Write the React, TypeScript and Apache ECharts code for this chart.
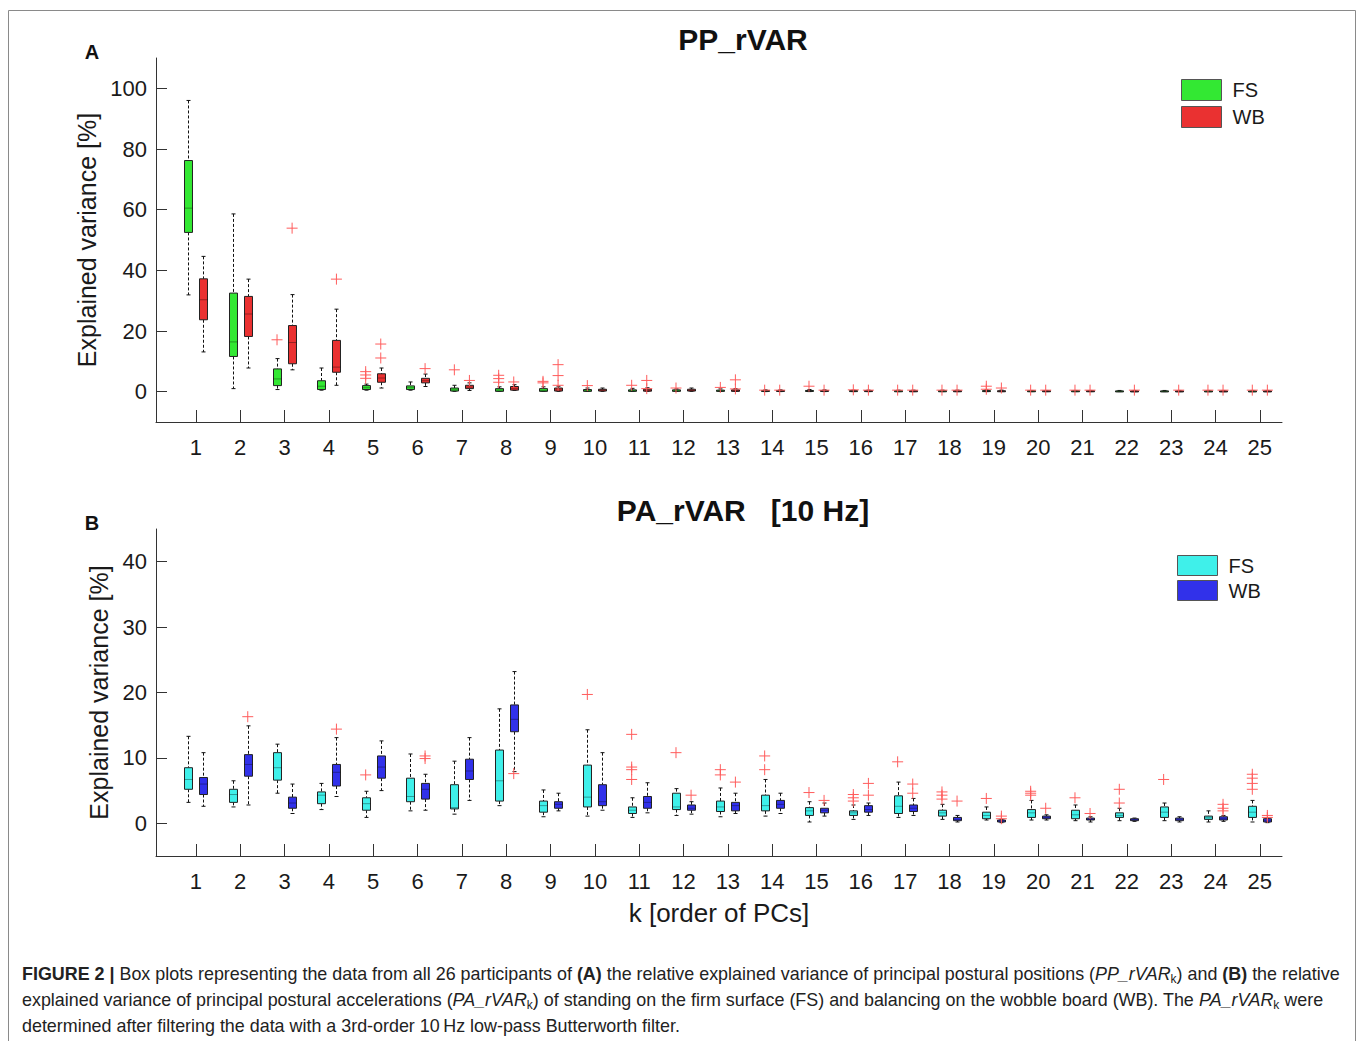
import React, { useEffect, useRef } from 'react';
import * as echarts from 'echarts';

// ---------- DATA ----------
const K = [1, 2, 3, 4, 5, 6, 7, 8, 9, 10, 11, 12, 13, 14, 15, 16, 17, 18, 19, 20, 21, 22, 23, 24, 25];

// [lower whisker, Q1, median, Q3, upper whisker]
const PP_FS = [
  [31.9, 52.5, 60.5, 76.2, 96.0], [1.0, 11.6, 16.4, 32.5, 58.6], [0.7, 2.0, 4.2, 7.5, 10.9],
  [0.5, 0.7, 1.8, 3.6, 7.8], [0.5, 0.7, 1.3, 2.0, 2.5], [0.5, 0.7, 1.3, 1.9, 3.2],
  [0.1, 0.2, 0.6, 1.2, 2.1], [0.1, 0.1, 0.5, 1.0, 1.6], [0.1, 0.1, 0.4, 1.0, 1.6],
  [0.05, 0.1, 0.35, 0.7, 1.2], [0.05, 0.1, 0.3, 0.6, 1.1], [0.05, 0.1, 0.3, 0.6, 0.9],
  [0.05, 0.1, 0.25, 0.5, 0.9], [0.02, 0.08, 0.2, 0.4, 0.6], [0.02, 0.08, 0.2, 0.4, 0.7],
  [0.02, 0.06, 0.15, 0.35, 0.5], [0.02, 0.06, 0.15, 0.3, 0.5], [0.02, 0.05, 0.15, 0.3, 0.5],
  [0.02, 0.05, 0.15, 0.35, 0.6], [0.02, 0.05, 0.12, 0.3, 0.4], [0.02, 0.05, 0.12, 0.3, 0.4],
  [0.02, 0.05, 0.12, 0.25, 0.4], [0.02, 0.05, 0.12, 0.25, 0.4], [0.02, 0.05, 0.1, 0.25, 0.4],
  [0.02, 0.05, 0.1, 0.25, 0.4],
];
const PP_WB = [
  [13.1, 23.7, 30.3, 37.2, 44.6], [7.8, 18.2, 25.6, 31.4, 37.1], [7.2, 9.2, 16.2, 21.8, 32.0],
  [2.1, 6.4, 8.1, 16.9, 27.2], [1.2, 3.1, 4.5, 5.9, 7.8], [1.7, 2.9, 3.6, 4.4, 5.8],
  [0.4, 1.0, 1.5, 2.1, 2.9], [0.4, 0.5, 1.0, 1.7, 2.3], [0.1, 0.2, 0.6, 1.2, 1.8],
  [0.1, 0.2, 0.5, 0.8, 1.2], [0.1, 0.15, 0.4, 0.8, 1.3], [0.1, 0.2, 0.4, 0.8, 1.2],
  [0.05, 0.1, 0.3, 0.6, 1.0], [0.02, 0.08, 0.2, 0.4, 0.6], [0.02, 0.08, 0.2, 0.4, 0.6],
  [0.02, 0.06, 0.15, 0.35, 0.5], [0.02, 0.06, 0.15, 0.3, 0.5], [0.02, 0.05, 0.15, 0.3, 0.5],
  [0.02, 0.05, 0.15, 0.3, 0.5], [0.02, 0.05, 0.12, 0.3, 0.4], [0.02, 0.05, 0.12, 0.3, 0.4],
  [0.02, 0.05, 0.12, 0.25, 0.4], [0.02, 0.05, 0.12, 0.25, 0.4], [0.02, 0.05, 0.1, 0.25, 0.4],
  [0.02, 0.05, 0.1, 0.25, 0.4],
];
// outliers [k, value]
const PP_FS_OUT = [
  [3, 17.1], [5, 6.6], [5, 5.5], [5, 4.4], [7, 7.2], [8, 5.4], [8, 4.3], [8, 3.1], [9, 3.4], [9, 2.9],
  [10, 2.0], [11, 2.1], [12, 1.2], [13, 1.4], [14, 0.5], [15, 1.8], [16, 0.6], [17, 0.5], [18, 0.5],
  [19, 1.8], [19, 0.8], [20, 0.5], [21, 0.5], [24, 0.5], [25, 0.5],
];
const PP_WB_OUT = [
  [3, 53.9], [4, 37.1], [5, 15.7], [5, 11.1], [6, 7.6], [7, 3.7], [8, 3.2], [9, 8.9], [9, 5.3], [9, 2.1],
  [11, 3.7], [11, 1.0], [13, 3.9], [13, 0.9], [14, 0.5], [15, 0.5], [16, 0.5], [17, 0.5], [18, 0.5],
  [19, 1.2], [20, 0.5], [21, 0.5], [22, 0.5], [23, 0.5], [24, 0.5], [25, 0.5],
];

const PA_FS = [
  [3.2, 5.2, 6.7, 8.5, 13.3], [2.5, 3.2, 4.4, 5.2, 6.5], [4.6, 6.6, 8.5, 10.8, 12.1],
  [2.1, 3.0, 4.3, 4.8, 6.1], [0.9, 2.0, 3.0, 3.9, 4.9], [1.9, 3.3, 4.1, 6.9, 10.6],
  [1.4, 2.2, 2.4, 5.9, 9.5], [2.7, 3.4, 6.5, 11.2, 17.5], [1.0, 1.7, 2.7, 3.4, 5.1],
  [1.1, 2.5, 4.0, 8.9, 14.3], [0.9, 1.5, 2.0, 2.5, 3.9], [1.2, 2.1, 2.5, 4.6, 5.3],
  [1.0, 1.8, 2.5, 3.4, 5.4], [1.1, 1.9, 2.7, 4.3, 6.7], [0.2, 1.2, 1.9, 2.4, 3.3],
  [0.6, 1.2, 1.6, 1.9, 2.8], [0.9, 1.5, 2.6, 4.2, 6.3], [0.6, 1.1, 1.6, 2.0, 2.9],
  [0.5, 0.7, 1.2, 1.7, 2.5], [0.5, 0.9, 1.6, 2.1, 3.5], [0.4, 0.7, 1.3, 2.0, 2.8],
  [0.4, 0.9, 1.2, 1.6, 2.3], [0.4, 0.9, 1.7, 2.5, 3.1], [0.2, 0.6, 0.85, 1.1, 1.9],
  [0.2, 0.9, 1.7, 2.6, 3.5],
];
const PA_WB = [
  [2.6, 4.4, 6.0, 7.0, 10.8], [2.8, 7.2, 9.0, 10.5, 14.9], [1.5, 2.3, 3.1, 4.0, 6.0],
  [4.1, 5.7, 7.8, 9.0, 13.1], [5.0, 6.9, 8.6, 10.3, 12.6], [2.0, 3.7, 5.2, 6.1, 7.5],
  [3.5, 6.7, 8.0, 9.8, 13.1], [7.9, 14.0, 15.9, 18.1, 23.2], [1.9, 2.3, 2.9, 3.3, 4.6],
  [2.0, 2.7, 3.3, 5.9, 10.8], [1.6, 2.3, 3.2, 4.1, 6.2], [1.4, 2.0, 2.3, 2.8, 3.3],
  [1.5, 1.9, 2.7, 3.2, 4.6], [1.5, 2.3, 2.9, 3.5, 4.6], [1.1, 1.6, 2.0, 2.3, 3.1],
  [1.2, 1.7, 2.1, 2.7, 3.1], [1.2, 1.8, 2.3, 2.8, 3.8], [0.2, 0.4, 0.6, 0.9, 1.2],
  [0.1, 0.2, 0.35, 0.5, 0.6], [0.5, 0.7, 0.9, 1.1, 1.3], [0.2, 0.5, 0.6, 0.8, 1.0],
  [0.3, 0.4, 0.55, 0.7, 0.8], [0.2, 0.4, 0.6, 0.8, 1.0], [0.3, 0.5, 0.7, 1.0, 1.2],
  [0.1, 0.2, 0.4, 0.7, 0.8],
];
const PA_FS_OUT = [
  [5, 7.4], [10, 19.7], [11, 13.6], [11, 8.6], [11, 8.2], [11, 6.7], [12, 10.8], [13, 8.2], [13, 7.4],
  [14, 10.3], [14, 8.2], [15, 4.7], [16, 4.4], [16, 3.9], [16, 3.4], [17, 9.4], [18, 4.8], [18, 4.3],
  [18, 3.7], [19, 3.8], [20, 4.9], [20, 4.6], [20, 4.3], [21, 3.9], [22, 5.2], [22, 3.1], [23, 6.7],
  [25, 7.5], [25, 6.9], [25, 6.1], [25, 5.2],
];
const PA_WB_OUT = [
  [2, 16.3], [4, 14.4], [6, 10.3], [6, 9.9], [8, 7.6], [12, 4.3], [13, 6.3], [15, 3.5], [16, 6.1],
  [16, 4.3], [17, 6.0], [17, 4.6], [18, 3.4], [19, 1.1], [19, 0.7], [20, 2.3], [21, 1.5], [24, 2.9],
  [24, 2.3], [24, 1.9], [25, 1.2], [25, 0.9],
];

const PP_Y_TICKS = [0, 20, 40, 60, 80, 100];
const PA_Y_TICKS = [0, 10, 20, 30, 40];

// ---------- STYLE ----------
const FONT = '"Liberation Sans", Arial, Helvetica, sans-serif';
const GREEN = '#33e833';
const RED = '#ea3131';
const CYAN = '#3ff0ea';
const BLUE = '#3131ea';
const OUT_RED = '#ff5c5c';
const OFFSET = 0.17;
const BOX_W = 0.18;

const renderBox = (offset: number) => (params: any, api: any) => {
  const x = api.value(0) + offset;
  const pLow = api.coord([x, api.value(1)]);
  const pQ1 = api.coord([x, api.value(2)]);
  const pMed = api.coord([x, api.value(3)]);
  const pQ3 = api.coord([x, api.value(4)]);
  const pHigh = api.coord([x, api.value(5)]);
  const half = api.size([BOX_W, 0])[0] / 2;
  const cap = 2;
  const cx = Math.round(pLow[0]) + 0.5;
  const fill = api.visual('color');
  const dash = { stroke: '#111', lineWidth: 1, lineDash: [3, 2], fill: null };
  const solid = { stroke: '#111', lineWidth: 1, fill: null };
  return {
    type: 'group',
    children: [
      { type: 'line', shape: { x1: cx, y1: pHigh[1], x2: cx, y2: pQ3[1] }, style: dash },
      { type: 'line', shape: { x1: cx, y1: pQ1[1], x2: cx, y2: pLow[1] }, style: dash },
      { type: 'line', shape: { x1: cx - cap, y1: pHigh[1], x2: cx + cap, y2: pHigh[1] }, style: solid },
      { type: 'line', shape: { x1: cx - cap, y1: pLow[1], x2: cx + cap, y2: pLow[1] }, style: solid },
      {
        type: 'rect',
        shape: { x: cx - half, y: pQ3[1], width: half * 2, height: Math.max(pQ1[1] - pQ3[1], 1) },
        style: { fill, stroke: '#222', lineWidth: 1 },
      },
      {
        type: 'line',
        shape: { x1: cx - half, y1: pMed[1], x2: cx + half, y2: pMed[1] },
        style: { stroke: 'rgba(0,0,0,0.35)', lineWidth: 1 },
      },
    ],
  };
};

const boxSeries = (name: string, stats: number[][], offset: number, color: string, idx: number) => ({
  type: 'custom',
  name,
  xAxisIndex: idx,
  yAxisIndex: idx,
  itemStyle: { color },
  data: stats.map((s, i) => [K[i], ...s]),
  encode: { x: 0, y: [1, 2, 3, 4, 5] },
  renderItem: renderBox(offset),
  z: 2,
});

const outlierSeries = (name: string, pts: number[][], offset: number, idx: number) => ({
  type: 'scatter',
  name,
  xAxisIndex: idx,
  yAxisIndex: idx,
  data: pts.map(([k, v]) => [k + offset, v]),
  symbol: 'path://M0,5L10,5M5,0L5,10',
  symbolSize: 11,
  itemStyle: { color: 'none', borderColor: OUT_RED, borderWidth: 1, opacity: 1 },
  z: 3,
});

const xAxisBase = (idx: number) => ({
  type: 'value',
  gridIndex: idx,
  min: 0.1,
  max: 25.5,
  axisLine: { onZero: false, lineStyle: { color: '#333', width: 1 } },
  axisTick: { inside: true, length: 12, customValues: K, lineStyle: { color: '#333' } },
  axisLabel: { customValues: K, margin: 14, fontSize: 22, color: '#1a1a1a', fontFamily: FONT },
  splitLine: { show: false },
});

const yAxisBase = (idx: number, min: number, max: number, ticks: number[], gap: number) => ({
  type: 'value',
  gridIndex: idx,
  min,
  max,
  name: 'Explained variance [%]',
  nameLocation: 'middle',
  nameGap: gap,
  nameTextStyle: { fontSize: 25, color: '#1a1a1a', fontFamily: FONT },
  axisLine: { show: true, lineStyle: { color: '#333', width: 1 } },
  axisTick: { show: true, inside: true, length: 11, customValues: ticks, lineStyle: { color: '#333' } },
  axisLabel: { customValues: ticks, margin: 9, fontSize: 22, color: '#1a1a1a', fontFamily: FONT },
  splitLine: { show: false },
});

const legendBase = (names: string[], colors: string[], left: number, top: number, h: number, gap: number) => ({
  orient: 'vertical',
  left,
  top,
  padding: 0,
  itemWidth: 40,
  itemHeight: h,
  itemGap: gap,
  icon: 'rect',
  formatter: (n: string) => n.split('_')[0],
  textStyle: { fontSize: 20, color: '#1a1a1a', fontFamily: FONT, padding: [0, 0, 0, 6] },
  data: names.map((n, i) => ({
    name: n,
    icon: 'rect',
    itemStyle: { color: colors[i], borderColor: '#555', borderWidth: 1 },
  })),
  selectedMode: false,
});

const CAPTION =
  '{b|FIGURE 2 |} Box plots representing the data from all 26 participants of {b|(A)} the relative explained variance of principal postural positions ({i|PP_rVAR}{sub|k}) and {b|(B)} the relative\n' +
  'explained variance of principal postural accelerations ({i|PA_rVAR}{sub|k}) of standing on the firm surface (FS) and balancing on the wobble board (WB). The {i|PA_rVAR}{sub|k} were\n' +
  'determined after filtering the data with a 3rd-order 10\u2009Hz low-pass Butterworth filter.';
const CAP_SIZE = 17.9;

export default function App() {
  const ref = useRef<HTMLDivElement>(null);
  useEffect(() => {
    if (!ref.current) return;
    const chart = echarts.init(ref.current, null, { renderer: 'svg' });
    const option: any = {
      animation: false,
      backgroundColor: '#ffffff',
      textStyle: { fontFamily: FONT },
      title: [
        {
          text: 'PP_rVAR',
          left: 743,
          top: 24,
          textAlign: 'center',
          padding: 0,
          textStyle: { fontSize: 30, fontWeight: 'bold', color: '#111', fontFamily: FONT, lineHeight: 30 },
        },
        {
          text: 'PA_rVAR   [10 Hz]',
          left: 743,
          top: 495,
          textAlign: 'center',
          padding: 0,
          textStyle: { fontSize: 30, fontWeight: 'bold', color: '#111', fontFamily: FONT, lineHeight: 30 },
        },
      ],
      legend: [
        legendBase(['FS_A', 'WB_A'], [GREEN, RED], 1181, 79, 21, 5),
        legendBase(['FS_B', 'WB_B'], [CYAN, BLUE], 1177, 555, 20, 4),
      ],
      grid: [
        { left: 156, top: 58, width: 1126, height: 364, containLabel: false, outerBoundsMode: 'none' },
        { left: 156, top: 529, width: 1126, height: 327, containLabel: false, outerBoundsMode: 'none' },
      ],
      xAxis: [
        xAxisBase(0),
        {
          ...xAxisBase(1),
          name: 'k [order of PCs]',
          nameLocation: 'middle',
          nameGap: 44,
          nameTextStyle: { fontSize: 26, color: '#1a1a1a', fontFamily: FONT },
        },
      ],
      yAxis: [yAxisBase(0, -10, 110, PP_Y_TICKS, 53), yAxisBase(1, -5, 45, PA_Y_TICKS, 41)],
      series: [
        boxSeries('FS_A', PP_FS, -OFFSET, GREEN, 0),
        boxSeries('WB_A', PP_WB, OFFSET, RED, 0),
        outlierSeries('FS_A_out', PP_FS_OUT, -OFFSET, 0),
        outlierSeries('WB_A_out', PP_WB_OUT, OFFSET, 0),
        boxSeries('FS_B', PA_FS, -OFFSET, CYAN, 1),
        boxSeries('WB_B', PA_WB, OFFSET, BLUE, 1),
        outlierSeries('FS_B_out', PA_FS_OUT, -OFFSET, 1),
        outlierSeries('WB_B_out', PA_WB_OUT, OFFSET, 1),
      ],
      graphic: [
        {
          type: 'rect',
          shape: { x: 8.5, y: 10.5, width: 1347, height: 1040 },
          style: { fill: 'none', stroke: '#8a8a8a', lineWidth: 1 },
          silent: true,
          z: -1,
        },
        {
          type: 'text',
          x: 92,
          y: 52,
          style: { text: 'A', fontSize: 20, fontWeight: 'bold', fill: '#111', fontFamily: FONT, textAlign: 'center', textVerticalAlign: 'middle' },
        },
        {
          type: 'text',
          x: 92,
          y: 523,
          style: { text: 'B', fontSize: 20, fontWeight: 'bold', fill: '#111', fontFamily: FONT, textAlign: 'center', textVerticalAlign: 'middle' },
        },
        {
          type: 'text',
          x: 22,
          y: 961,
          style: {
            text: CAPTION,
            fontSize: CAP_SIZE,
            lineHeight: 26,
            fill: '#222',
            fontFamily: FONT,
            rich: {
              b: { fontWeight: 'bold', fontSize: CAP_SIZE, lineHeight: 26, fontFamily: FONT, fill: '#222' },
              i: { fontStyle: 'italic', fontSize: CAP_SIZE, lineHeight: 26, fontFamily: FONT, fill: '#222' },
              sub: { fontSize: 12, lineHeight: 26, fontFamily: FONT, fill: '#222', padding: [10, 0, 0, 0] },
            },
          },
        },
      ],
    };
    chart.setOption(option);
    return () => chart.dispose();
  }, []);
  return (
    <div
      ref={ref}
      style={{ position: 'absolute', left: 0, top: 0, width: 1357, height: 1041, background: '#fff' }}
    />
  );
}
